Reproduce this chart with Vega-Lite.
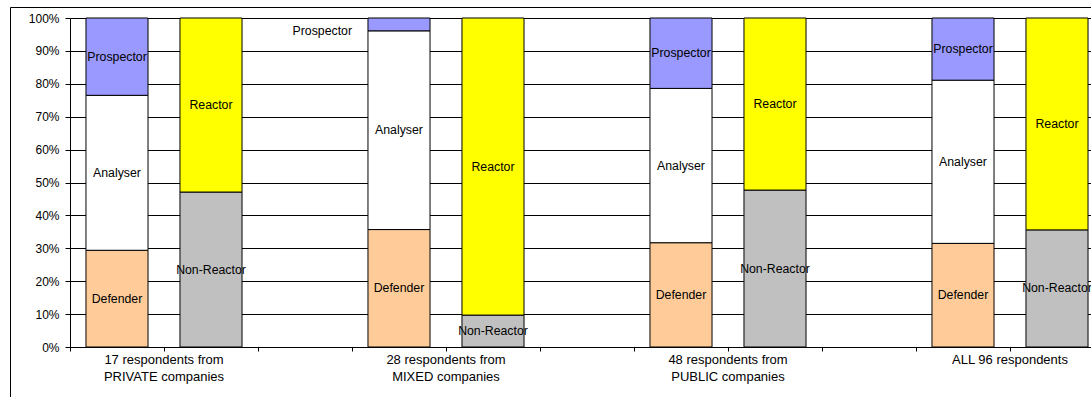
{
  "$schema": "https://vega.github.io/schema/vega-lite/v6.json",
  "width": 1091,
  "height": 400,
  "autosize": "none",
  "padding": {"left": 10, "top": 7, "right": -10, "bottom": -10},
  "background": "white",
  "config": {
    "view": {"stroke": "#000", "strokeWidth": 1},
    "font": "Liberation Sans",
    "axis": {"labelFont": "Liberation Sans"}
  },
  "data": {
    "values": [
      {"bar": "PRIVATE|strategy", "type": "Defender", "rank": 1, "pct": 29.4},
      {"bar": "PRIVATE|strategy", "type": "Analyser", "rank": 2, "pct": 47.1},
      {"bar": "PRIVATE|strategy", "type": "Prospector", "rank": 3, "pct": 23.5},
      {"bar": "PRIVATE|reaction", "type": "Non-Reactor", "rank": 1, "pct": 47.1},
      {"bar": "PRIVATE|reaction", "type": "Reactor", "rank": 2, "pct": 52.9},
      {"bar": "MIXED|strategy", "type": "Defender", "rank": 1, "pct": 35.7},
      {"bar": "MIXED|strategy", "type": "Analyser", "rank": 2, "pct": 60.4},
      {"bar": "MIXED|strategy", "type": "Prospector", "rank": 3, "pct": 3.9},
      {"bar": "MIXED|reaction", "type": "Non-Reactor", "rank": 1, "pct": 9.7},
      {"bar": "MIXED|reaction", "type": "Reactor", "rank": 2, "pct": 90.3},
      {"bar": "PUBLIC|strategy", "type": "Defender", "rank": 1, "pct": 31.7},
      {"bar": "PUBLIC|strategy", "type": "Analyser", "rank": 2, "pct": 46.9},
      {"bar": "PUBLIC|strategy", "type": "Prospector", "rank": 3, "pct": 21.4},
      {"bar": "PUBLIC|reaction", "type": "Non-Reactor", "rank": 1, "pct": 47.7},
      {"bar": "PUBLIC|reaction", "type": "Reactor", "rank": 2, "pct": 52.3},
      {"bar": "ALL|strategy", "type": "Defender", "rank": 1, "pct": 31.5},
      {"bar": "ALL|strategy", "type": "Analyser", "rank": 2, "pct": 49.6},
      {"bar": "ALL|strategy", "type": "Prospector", "rank": 3, "pct": 18.9},
      {"bar": "ALL|reaction", "type": "Non-Reactor", "rank": 1, "pct": 35.6},
      {"bar": "ALL|reaction", "type": "Reactor", "rank": 2, "pct": 64.4}
    ]
  },
  "encoding": {
    "x": {
      "field": "bar",
      "type": "nominal",
      "scale": {
        "domain": ["PRIVATE|strategy", "PRIVATE|reaction", "gap1", "MIXED|strategy", "MIXED|reaction", "gap2", "PUBLIC|strategy", "PUBLIC|reaction", "gap3", "ALL|strategy", "ALL|reaction"],
        "range": [60, 1094],
        "paddingInner": 0,
        "paddingOuter": 0
      },
      "axis": {
        "title": null,
        "offset": -60,
        "bandPosition": 0,
        "grid": false,
        "tickSize": 4,
        "tickColor": "#000",
        "domainColor": "#000",
        "labelAngle": 0,
        "labelPadding": 2,
        "labelOffset": -47,
        "labelFontSize": 13,
        "labelColor": "#000",
        "labelLineHeight": 17,
        "labelBaseline": "top",
        "labelOverlap": false,
        "labelBound": false,
        "labelExpr": "datum.value == 'PRIVATE|reaction' ? ['17 respondents from', 'PRIVATE companies'] : datum.value == 'MIXED|reaction' ? ['28 respondents from', 'MIXED companies'] : datum.value == 'PUBLIC|reaction' ? ['48 respondents from', 'PUBLIC companies'] : datum.value == 'ALL|reaction' ? 'ALL 96 respondents' : ''"
      }
    },
    "y": {
      "field": "pct",
      "type": "quantitative",
      "stack": "zero",
      "scale": {"domain": [0, 100], "range": [340, 11], "nice": false},
      "axis": {
        "title": null,
        "offset": -60,
        "values": [0, 10, 20, 30, 40, 50, 60, 70, 80, 90, 100],
        "grid": true,
        "gridColor": "#000",
        "gridWidth": 1,
        "domainColor": "#000",
        "tickColor": "#000",
        "tickSize": 5,
        "labelPadding": 6,
        "labelFontSize": 12,
        "labelColor": "#000",
        "labelExpr": "datum.value + '%'"
      }
    },
    "order": {"field": "rank", "type": "quantitative"}
  },
  "layer": [
    {
      "mark": {"type": "bar", "width": {"band": 0.66}, "stroke": "#000", "strokeWidth": 1},
      "encoding": {
        "color": {
          "field": "type",
          "type": "nominal",
          "scale": {
            "domain": ["Defender", "Analyser", "Prospector", "Non-Reactor", "Reactor"],
            "range": ["#FFCC99", "#FFFFFF", "#9999FF", "#C0C0C0", "#FFFF00"]
          },
          "legend": null
        }
      }
    },
    {
      "mark": {"type": "text", "fontSize": 12.3, "color": "#000"},
      "encoding": {
        "y": {"field": "pct", "type": "quantitative", "stack": "zero", "bandPosition": 0.5},
        "text": {
          "condition": {"test": "datum.bar == 'MIXED|strategy' && datum.type == 'Prospector'", "value": ""},
          "field": "type"
        }
      }
    },
    {
      "mark": {"type": "text", "fontSize": 12.3, "color": "#000", "align": "right", "dx": -47, "dy": 7},
      "encoding": {
        "y": {"field": "pct", "type": "quantitative", "stack": "zero", "bandPosition": 0.5},
        "text": {
          "condition": {"test": "datum.bar == 'MIXED|strategy' && datum.type == 'Prospector'", "field": "type"},
          "value": ""
        }
      }
    }
  ]
}
